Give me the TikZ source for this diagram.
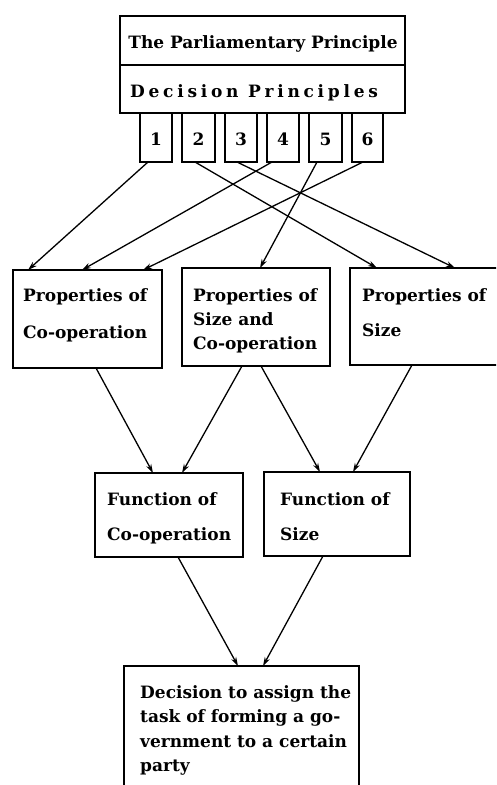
\documentclass[tikz,border=0pt]{standalone}
\usepackage{fontspec}
\setmainfont{DejaVu Serif}
\usetikzlibrary{arrows.meta}
\begin{document}
\begin{tikzpicture}[x=1pt,y=-1pt,
  box/.style={draw, line width=1.8pt, inner sep=0pt, outer sep=0pt, anchor=north west},
  sbox/.style={box, line width=1.5pt, minimum height=49pt},
  txt/.style={inner sep=0pt, anchor=base west, font=\fontsize{17}{20}\selectfont\bfseries},
  arr/.style={line width=1.3pt, -{Stealth[length=9pt,width=5.5pt]}}]
\useasboundingbox (0,0) rectangle (496,785);
\clip (0,0) rectangle (496,785);
% top box
\node[box, minimum width=285pt, minimum height=49pt] (T1) at (120,16) {};
\node[box, minimum width=285pt, minimum height=48pt] (T2) at (120,65) {};
\node[txt, anchor=base] (tT1) at (263,48) {The Parliamentary Principle};
\node[txt, anchor=base west] (tT2) at (130,97) {\addfontfeature{LetterSpace=22}Decision Principles};
% small boxes
\node[sbox, minimum width=32pt] (n1) at (140,113) {};
\node[sbox, minimum width=33pt] (n2) at (182,113) {};
\node[sbox, minimum width=32pt] (n3) at (225,113) {};
\node[sbox, minimum width=32pt] (n4) at (267,113) {};
\node[sbox, minimum width=33pt] (n5) at (309,113) {};
\node[sbox, minimum width=31pt] (n6) at (352,113) {};
\node[txt, anchor=base] (d1) at (n1.south |- 0,145) {1};
\node[txt, anchor=base] (d2) at (n2.south |- 0,145) {2};
\node[txt, anchor=base] (d3) at (n3.south |- 0,145) {3};
\node[txt, anchor=base] (d4) at (n4.south |- 0,145) {4};
\node[txt, anchor=base] (d5) at (n5.south |- 0,145) {5};
\node[txt, anchor=base] (d6) at (n6.south |- 0,145) {6};
% properties boxes
\node[box, minimum width=149pt, minimum height=98pt] (A) at (13,270) {};
\node[box, minimum width=148pt, minimum height=98pt] (B) at (182,268) {};
\node[box, minimum width=170pt, minimum height=97pt] (C) at (350,268) {};
\node[txt] (tA1) at (23,301) {Properties of};
\node[txt] (tA2) at (23,338) {Co-operation};
\node[txt] (tB1) at (193,301) {Properties of};
\node[txt] (tB2) at (193,325) {Size and};
\node[txt] (tB3) at (193,349) {Co-operation};
\node[txt] (tC1) at (362,301) {Properties of};
\node[txt] (tC2) at (362,336) {Size};
% function boxes
\node[box, minimum width=148pt, minimum height=84pt] (D) at (95,473) {};
\node[box, minimum width=146pt, minimum height=84pt] (E) at (264,472) {};
\node[txt] (tD1) at (107,505) {Function of};
\node[txt] (tD2) at (107,540) {Co-operation};
\node[txt] (tE1) at (280,505) {Function of};
\node[txt] (tE2) at (280,540) {Size};
% decision box
\node[box, minimum width=235pt, minimum height=140pt] (F) at (124,666) {};
\node[txt] (tF1) at (140,698) {Decision to assign the};
\node[txt] (tF2) at (140,722) {task of forming a go-};
\node[txt] (tF3) at (140,747) {vernment to a certain};
\node[txt] (tF4) at (140,771) {party};
% arrows
\draw[arr] ([xshift=8pt]n1.south west) -- ([xshift=15pt]A.north west);
\draw[arr] ([xshift=5pt]n4.south west) -- ([xshift=69pt]A.north west);
\draw[arr] ([xshift=11pt]n6.south west) -- ([xshift=130pt]A.north west);
\draw[arr] ([xshift=8pt]n5.south west) -- ([xshift=78pt]B.north west);
\draw[arr] ([xshift=13pt]n2.south west) -- ([xshift=27pt]C.north west);
\draw[arr] ([xshift=12pt]n3.south west) -- ([xshift=105pt]C.north west);
\draw[arr] ([xshift=83pt]A.south west) -- ([xshift=58pt]D.north west);
\draw[arr] ([xshift=60pt]B.south west) -- ([xshift=87pt]D.north west);
\draw[arr] ([xshift=79pt]B.south west) -- ([xshift=56pt]E.north west);
\draw[arr] ([xshift=62pt]C.south west) -- ([xshift=89pt]E.north west);
\draw[arr] ([xshift=83pt]D.south west) -- ([xshift=114pt]F.north west);
\draw[arr] ([xshift=59pt]E.south west) -- ([xshift=139pt]F.north west);
\end{tikzpicture}
\end{document}
